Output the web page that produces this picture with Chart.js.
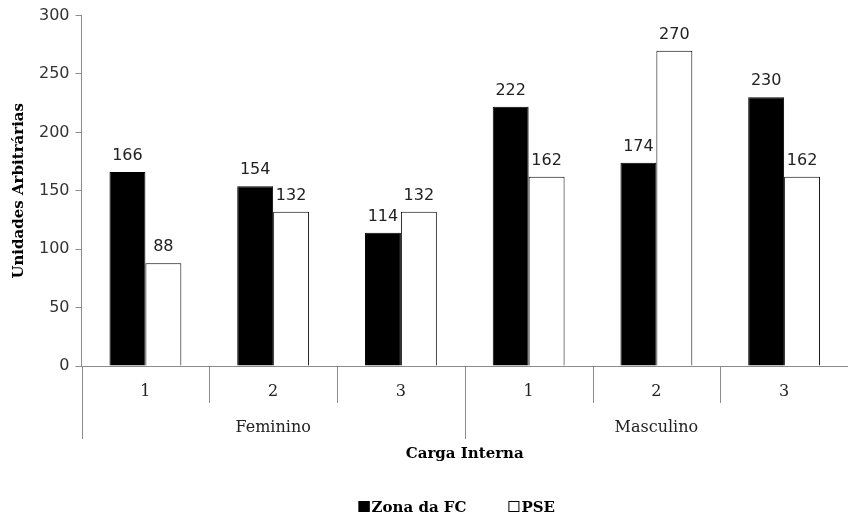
<!DOCTYPE html>
<html>
<head>
<meta charset="utf-8">
<script src="https://cdn.jsdelivr.net/npm/chart.js@4/dist/chart.umd.min.js"></script>
<style>
  body { margin: 0; background: #fff; }
  #wrap { width: 848px; height: 515px; }
</style>
</head>
<body>
<div id="wrap"><canvas id="cargaChart"></canvas></div>
<script>
const categories = ["1", "2", "3", "1", "2", "3"];
const groups = ["Feminino", "Masculino"];
const zonaFC = [166, 154, 114, 222, 174, 230];
const pse = [88, 132, 132, 162, 270, 162];
const yTicks = [0, 50, 100, 150, 200, 250, 300];

const serif = "'DejaVu Serif', 'Liberation Serif', serif";
const sans = "'DejaVu Sans', 'Liberation Sans', sans-serif";

// value labels over bars
const barLabels = {
  id: "barLabels",
  afterDatasetsDraw(chart) {
    const ctx = chart.ctx;
    ctx.save();
    ctx.font = "16px " + sans;
    ctx.fillStyle = "#222";
    ctx.textAlign = "center";
    ctx.textBaseline = "alphabetic";
    chart.data.datasets.forEach((ds, di) => {
      chart.getDatasetMeta(di).data.forEach((el, i) => {
        ctx.fillText(ds.data[i], el.x, el.y - 12);
      });
    });
    ctx.restore();
  }
};

// two-level category axis + legend below the axis title
const groupAxis = {
  id: "groupAxis",
  afterDraw(chart) {
    const ctx = chart.ctx;
    const x = chart.scales.x;
    const area = chart.chartArea;
    const base = area.bottom;
    const w = x.getPixelForValue(1) - x.getPixelForValue(0);
    ctx.save();
    ctx.strokeStyle = "#8c8c8c";
    ctx.lineWidth = 1;
    for (let i = 0; i <= categories.length; i++) {
      const px = Math.round(x.getPixelForValue(i) - w / 2) + 0.5;
      const len = i % 3 === 0 ? 73 : 37;
      ctx.beginPath();
      ctx.moveTo(px, base);
      ctx.lineTo(px, base + len);
      ctx.stroke();
    }
    ctx.fillStyle = "#222";
    ctx.textAlign = "center";
    ctx.textBaseline = "middle";
    ctx.font = "16px " + serif;
    categories.forEach((c, i) => {
      ctx.fillText(c, x.getPixelForValue(i), base + 26);
    });
    groups.forEach((g, gi) => {
      const mid = (x.getPixelForValue(gi * 3) + x.getPixelForValue(gi * 3 + 2)) / 2;
      ctx.fillText(g, mid, base + 62);
    });

    // legend
    const items = chart.data.datasets;
    ctx.font = "bold 15px " + serif;
    ctx.textAlign = "left";
    ctx.textBaseline = "alphabetic";
    const box = 11, gapText = 2, gapItem = 42;
    const widths = items.map(d => box + gapText + ctx.measureText(d.label).width);
    const total = widths.reduce((a, b) => a + b, 0) + gapItem * (items.length - 1);
    let lx = (area.left + area.right) / 2 - 8 - total / 2;
    const ly = chart.height - 3;
    items.forEach((d, i) => {
      ctx.fillStyle = d.backgroundColor;
      ctx.fillRect(lx, ly - box, box, box);
      ctx.strokeStyle = "#000";
      ctx.strokeRect(lx + 0.5, ly - box + 0.5, box - 1, box - 1);
      ctx.fillStyle = "#000";
      ctx.fillText(d.label, lx + box + gapText, ly);
      lx += widths[i] + gapItem;
    });
    ctx.restore();
  }
};

new Chart(document.getElementById("cargaChart"), {
  type: "bar",
  data: {
    labels: categories,
    datasets: [
      {
        label: "Zona da FC",
        data: zonaFC,
        backgroundColor: "#000",
        borderColor: "#000",
        borderWidth: 1,
        categoryPercentage: 0.5625,
        barPercentage: 1
      },
      {
        label: "PSE",
        data: pse,
        backgroundColor: "#fff",
        borderColor: "#000",
        borderWidth: 1,
        categoryPercentage: 0.5625,
        barPercentage: 1
      }
    ]
  },
  options: {
    responsive: true,
    maintainAspectRatio: false,
    animation: false,
    layout: { padding: { top: 13, right: 0, left: 0, bottom: 52 } },
    plugins: {
      tooltip: { enabled: false },
      legend: { display: false }
    },
    scales: {
      x: {
        grid: { display: false },
        border: { display: true, color: "#8c8c8c" },
        ticks: { display: false },
        title: {
          display: true,
          text: "Carga Interna",
          color: "#000",
          font: { family: serif, size: 15, weight: "bold" },
          padding: { top: 71, bottom: 0 }
        }
      },
      y: {
        min: 0,
        max: 300,
        afterBuildTicks: (axis) => { axis.ticks = yTicks.map(v => ({ value: v })); },
        grid: { drawOnChartArea: false, drawTicks: true, tickLength: 6, color: "#8c8c8c" },
        border: { display: true, color: "#8c8c8c" },
        ticks: {
          color: "#333",
          font: { family: sans, size: 16 },
          padding: 6
        },
        title: {
          display: true,
          text: "Unidades Arbitrárias",
          color: "#000",
          font: { family: serif, size: 15, weight: "bold" },
          padding: { top: 10, bottom: 5 }
        }
      }
    }
  },
  plugins: [barLabels, groupAxis]
});
</script>
</body>
</html>
